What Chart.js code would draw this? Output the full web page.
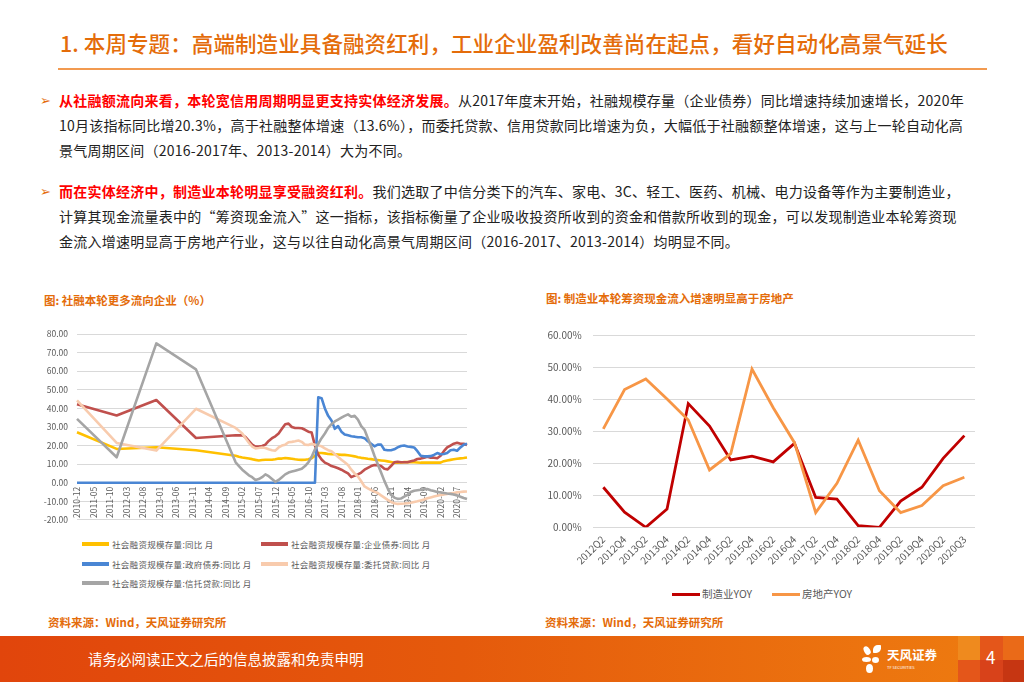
<!DOCTYPE html>
<html lang="zh-CN">
<head>
<meta charset="utf-8">
<script src="https://cdn.jsdelivr.net/npm/chart.js@4.4.0/dist/chart.umd.min.js"></script>
<style>
  html,body{margin:0;padding:0;}
  body{width:1024px;height:682px;position:relative;overflow:hidden;background:#fff;font-family:'Noto Sans CJK SC','Noto Sans',sans-serif;}
  .abs{position:absolute;white-space:nowrap;}
  .title{left:60px;top:29px;font-size:21.5px;line-height:28px;color:#E46C0A;font-weight:500;letter-spacing:0.1px;}
  .rule{left:58px;top:68px;width:929px;height:2px;background:#F29A50;}
  .txt{font-size:14px;line-height:20px;color:#222;left:59px;letter-spacing:0.25px;}
  .red{color:#FF0000;font-weight:700;}
  .arrow{font-size:13px;color:#E46C0A;left:40px;line-height:20px;}
  .ctitle{font-size:11.5px;font-weight:700;color:#E46C0A;line-height:16px;}
  .src{font-size:11.5px;font-weight:700;color:#E46C0A;line-height:16px;top:614px;}
  .lg{font-size:8.5px;color:#595959;line-height:12px;letter-spacing:0.3px;}
  .lgl{height:4px;width:27px;}
  .rlg{font-size:10.5px;color:#595959;line-height:14px;}
  .rlgl{height:3px;width:28px;}
  #footer{left:0;top:636px;width:1024px;height:46px;background:linear-gradient(90deg,#E1450C 0%,#E55A0C 45%,#EC740F 85%,#EE7C10 100%);}
</style>
</head>
<body>
<div class="abs title">1. 本周专题：高端制造业具备融资红利，工业企业盈利改善尚在起点，看好自动化高景气延长</div>
<div class="abs rule"></div>

<div class="abs arrow" style="top:90px;">➢</div>
<div class="abs txt" style="top:90px;"><span class="red">从社融额流向来看，本轮宽信用周期明显更支持实体经济发展。</span>从2017年度末开始，社融规模存量（企业债券）同比增速持续加速增长，2020年</div>
<div class="abs txt" style="top:115px;">10月该指标同比增20.3%，高于社融整体增速（13.6%），而委托贷款、信用贷款同比增速为负，大幅低于社融额整体增速，这与上一轮自动化高</div>
<div class="abs txt" style="top:140px;">景气周期区间（2016-2017年、2013-2014）大为不同。</div>

<div class="abs arrow" style="top:181px;">➢</div>
<div class="abs txt" style="top:181px;"><span class="red">而在实体经济中，制造业本轮明显享受融资红利。</span>我们选取了中信分类下的汽车、家电、3C、轻工、医药、机械、电力设备等作为主要制造业，</div>
<div class="abs txt" style="top:206px;">计算其现金流量表中的“筹资现金流入”这一指标，该指标衡量了企业吸收投资所收到的资金和借款所收到的现金，可以发现制造业本轮筹资现</div>
<div class="abs txt" style="top:231px;">金流入增速明显高于房地产行业，这与以往自动化高景气周期区间（2016-2017、2013-2014）均明显不同。</div>

<div class="abs ctitle" style="left:44px;top:292px;">图: 社融本轮更多流向企业（%）</div>
<div class="abs ctitle" style="left:546px;top:290px;">图: 制造业本轮筹资现金流入增速明显高于房地产</div>

<div class="abs" style="left:20px;top:320px;width:460px;height:214px;"><canvas id="c1" width="460" height="214"></canvas></div>
<div class="abs" style="left:530px;top:318px;width:460px;height:264px;"><canvas id="c2" width="460" height="264"></canvas></div>

<!-- left legend -->
<div class="abs lgl" style="left:82px;top:542px;background:#FFC000;"></div>
<div class="abs lg" style="left:112px;top:538px;">社会融资规模存量:同比 月</div>
<div class="abs lgl" style="left:261px;top:542px;background:#C0504D;"></div>
<div class="abs lg" style="left:291px;top:538px;">社会融资规模存量:企业债券:同比 月</div>
<div class="abs lgl" style="left:82px;top:562px;background:#4A86D4;"></div>
<div class="abs lg" style="left:112px;top:558px;">社会融资规模存量:政府债券:同比 月</div>
<div class="abs lgl" style="left:261px;top:562px;background:#F8CBAD;"></div>
<div class="abs lg" style="left:291px;top:558px;">社会融资规模存量:委托贷款:同比 月</div>
<div class="abs lgl" style="left:82px;top:581px;background:#A5A5A5;"></div>
<div class="abs lg" style="left:112px;top:577px;">社会融资规模存量:信托贷款:同比 月</div>

<!-- right legend -->
<div class="abs rlgl" style="left:672px;top:593px;background:#C00000;"></div>
<div class="abs rlg" style="left:702px;top:587px;">制造业YOY</div>
<div class="abs rlgl" style="left:772px;top:593px;background:#F79646;"></div>
<div class="abs rlg" style="left:802px;top:587px;">房地产YOY</div>

<div class="abs src" style="left:48px;">资料来源：Wind，天风证券研究所</div>
<div class="abs src" style="left:545px;">资料来源：Wind，天风证券研究所</div>

<div class="abs" id="footer"></div>
<div class="abs" style="left:958px;top:636px;width:22px;height:24px;background:#EF8A1E;"></div>
<div class="abs" style="left:980px;top:636px;width:23px;height:24px;background:#E4561A;"></div>
<div class="abs" style="left:1003px;top:636px;width:21px;height:24px;background:#EA6A18;"></div>
<div class="abs" style="left:958px;top:660px;width:22px;height:22px;background:#E4561A;"></div>
<div class="abs" style="left:980px;top:660px;width:23px;height:22px;background:#D8421A;"></div>
<div class="abs" style="left:1003px;top:660px;width:21px;height:22px;background:#C63612;"></div>
<div class="abs" style="left:88px;top:649px;font-size:14.5px;line-height:20px;color:#fff;">请务必阅读正文之后的信息披露和免责申明</div>
<!-- logo -->
<div class="abs" style="left:864px;top:646px;width:6px;height:9px;background:#fff;border-radius:50% 50% 40% 40%;transform:rotate(-30deg);"></div>
<div class="abs" style="left:873px;top:645px;width:8px;height:8px;background:#fff;border-radius:60% 10% 60% 10%;"></div>
<div class="abs" style="left:862px;top:657px;width:9px;height:5px;background:#fff;border-radius:50%;"></div>
<div class="abs" style="left:872px;top:657px;width:7px;height:6px;background:#fff;border-radius:50%;"></div>
<div class="abs" style="left:866px;top:664px;width:7px;height:9px;background:#fff;border-radius:50% 50% 50% 50%;"></div>
<div class="abs" style="left:887px;top:647px;font-size:12.5px;line-height:16px;color:#fff;font-weight:700;">天风证券</div>
<div class="abs" style="left:887px;top:665px;font-size:4px;line-height:5px;color:#fff;">TF SECURITIES</div>
<div class="abs" style="left:986px;top:647px;font-size:17px;line-height:20px;color:#fff;">4</div>

<script>
// ---------- Left chart data ----------
const monthLabels = (function(){ const a=[]; let y=2010,m=12; while(!(y===2020&&m===11)){ a.push(y+'-'+String(m).padStart(2,'0')); m++; if(m>12){m=1;y++;} } return a; })();
const tickLabels = ['2010-12','2011-05','2011-10','2012-03','2012-08','2013-01','2013-06','2013-11','2014-04','2014-09','2015-02','2015-07','2015-12','2016-05','2016-10','2017-03','2017-08','2018-01','2018-06','2018-11','2019-04','2019-09','2020-02','2020-07'];
const yearEndLabels = ['2010-12','2011-12','2012-12','2013-12','2014-12'];
const monthlyStart = '2015-01';

// 社会融资规模存量:同比
const tsfAnnual = [27.2, 18.2, 19.1, 17.5, 14.5];
const tsfMonthly = [14.0,13.6,13.3,13.0,12.7,12.3,12.0,12.2,12.4,12.4,12.4,12.6,
  13.0,13.0,13.3,13.1,12.9,12.6,12.4,12.3,12.4,12.6,13.2,14.5,
  16.0,16.0,15.8,15.5,15.4,15.3,15.2,15.0,15.0,14.8,14.5,14.2,
  13.7,13.4,13.2,12.9,12.7,12.4,12.2,12.0,11.8,11.5,11.2,10.8,
  10.8,10.9,11.1,11.2,11.0,11.0,10.9,10.8,10.8,10.8,10.8,10.8,
  10.8,10.8,11.6,12.0,12.3,12.6,12.9,13.1,13.3,13.6];
// 企业债券
const corpAnnual = [42.3, 36.2, 44.5, 24.1, 25.6];
const corpMonthly = [25.5,25.6,24.5,22.5,20.5,19.5,19.5,19.8,20.5,22.5,24.0,25.0,
  26.5,29.0,31.5,31.8,30.0,29.5,29.5,29.3,28.5,27.5,27.0,20.0,
  15.0,12.5,10.8,10.0,9.0,8.5,7.8,7.0,6.0,5.0,3.0,3.8,
  4.5,5.5,7.0,8.0,9.0,9.5,9.5,9.0,7.5,7.2,9.0,11.0,
  11.3,11.0,11.0,11.0,11.5,12.0,12.8,13.0,13.5,14.0,13.5,13.5,
  13.2,14.5,17.0,19.0,20.0,21.0,21.5,21.0,21.0,20.3];
// 政府债券
const govAnnual = [0, 0, 0, 0, 0];
const govMonthly = [0,0,0,0,0,0,0,0,0,0,0,0,
  0,0,0,0,0,0,0,0,0,0,0,0,
  46.0,45.5,40.0,36.0,33.5,29.0,30.5,27.5,26.0,25.5,25.0,24.8,
  24.5,24.5,24.0,22.3,21.0,19.6,20.5,20.5,17.8,17.5,17.5,18.0,
  19.0,19.8,20.0,19.5,19.3,19.0,17.0,14.5,14.2,14.2,14.3,15.0,
  16.0,15.3,15.5,16.0,17.5,17.8,17.2,19.0,20.5,21.0];
// 委托贷款
const entAnnual = [44.3, 21.4, 17.3, 39.8, 29.5];
const entMonthly = [28.0,26.5,24.0,21.5,19.5,18.5,18.7,19.0,18.7,18.0,17.5,17.3,
  19.0,20.0,20.5,21.8,22.0,22.3,22.7,22.0,20.5,20.3,21.0,20.5,
  20.0,19.6,18.5,17.5,16.9,15.5,13.8,12.4,11.0,9.5,7.0,5.0,
  3.4,0.8,-2.0,-3.0,-4.0,-4.8,-5.5,-6.8,-8.0,-9.2,-10.3,-11.0,
  -11.4,-11.3,-11.2,-11.0,-10.8,-10.4,-10.0,-9.5,-9.0,-8.4,-7.9,-7.4,
  -7.0,-6.6,-6.3,-6.1,-5.8,-5.5,-5.2,-5.0,-4.8,-4.7];
// 信托贷款
const trustAnnual = [34.4, 13.7, 75.0, 61.0, 11.0];
const trustMonthly = [9.0,7.0,5.5,4.0,3.0,1.5,2.0,3.0,4.5,3.5,2.0,0.5,
  1.5,3.0,4.5,5.5,6.0,6.5,7.0,7.5,9.0,11.0,14.0,18.0,
  21.0,24.0,26.5,29.5,31.5,33.0,34.0,35.0,36.0,36.8,35.5,36.0,
  34.0,30.5,28.5,24.0,19.5,14.5,10.0,5.5,1.0,-3.0,-6.5,-8.0,
  -8.7,-8.5,-7.5,-6.5,-5.0,-4.3,-4.0,-3.8,-3.5,-3.4,-4.0,-4.5,
  -5.0,-5.2,-5.5,-5.8,-6.0,-6.3,-6.8,-7.5,-8.2,-8.8];

// ---------- Right chart data ----------
const quarters = ['2012Q2','2012Q4','2013Q2','2013Q4','2014Q2','2014Q4','2015Q2','2015Q4','2016Q2','2016Q4','2017Q2','2017Q4','2018Q2','2018Q4','2019Q2','2019Q4','2020Q2','2020Q3'];
const mfgYoy = [12.5,4.7,0.0,5.7,38.6,31.6,21.0,22.2,20.4,26.2,9.3,8.8,0.5,0.0,8.2,12.5,21.5,28.6];
const reYoy  = [30.7,43.0,46.3,40.0,33.5,17.9,23.0,49.4,37.3,26.4,4.6,13.7,27.2,11.4,4.6,6.8,13.0,15.6];

const FONT = "'Noto Sans CJK SC','Noto Sans',sans-serif";
const startIdx = monthLabels.indexOf(monthlyStart);
function pts(annual, monthly){
  return annual.map((v,i)=>({x:yearEndLabels[i], y:v}))
    .concat(monthly.map((v,i)=>({x:monthLabels[startIdx+i], y:v})));
}
function ds(label, data, color, order){
  return {label, data, borderColor:color, backgroundColor:color, borderWidth:2.6, pointRadius:0, tension:0, fill:false, order, borderJoinStyle:'round'};
}

new Chart(document.getElementById('c1'), {
  type:'line',
  data:{
    labels: monthLabels,
    datasets:[
      ds('社会融资规模存量:同比 月', pts(tsfAnnual, tsfMonthly), '#FFC000', 4),
      ds('社会融资规模存量:企业债券:同比 月', pts(corpAnnual, corpMonthly), '#C0504D', 3),
      ds('社会融资规模存量:政府债券:同比 月', pts(govAnnual, govMonthly), '#4A86D4', 2),
      ds('社会融资规模存量:委托贷款:同比 月', pts(entAnnual, entMonthly), '#F8CBAD', 1),
      ds('社会融资规模存量:信托贷款:同比 月', pts(trustAnnual, trustMonthly), '#A5A5A5', 0)
    ]
  },
  options:{
    responsive:false, animation:false,
    layout:{padding:{top:5,right:13,bottom:5,left:0}},
    plugins:{legend:{display:false}, tooltip:{enabled:false}},
    scales:{
      x:{type:'category', position:{y:0}, offset:false,
        grid:{display:false, drawTicks:false}, border:{display:false},
        ticks:{autoSkip:false, minRotation:90, maxRotation:90, padding:4, color:'#595959', font:{size:8.5, family:FONT},
          callback:function(v){ const l=this.getLabelForValue(v); return tickLabels.includes(l)?l:null; }}
      },
      y:{min:-20, max:80,
        afterFit:function(s){ s.width=57; },
        grid:{color:'#D9D9D9', drawTicks:false, lineWidth:1}, border:{display:false},
        ticks:{stepSize:10, padding:9, color:'#595959', font:{size:8.5, family:FONT}, callback:v=>v.toFixed(2)}
      }
    }
  }
});

new Chart(document.getElementById('c2'), {
  type:'line',
  data:{
    labels: quarters,
    datasets:[
      {label:'制造业YOY', data:mfgYoy, borderColor:'#C00000', backgroundColor:'#C00000', borderWidth:2.8, pointRadius:0, tension:0, order:1},
      {label:'房地产YOY', data:reYoy, borderColor:'#F79646', backgroundColor:'#F79646', borderWidth:2.8, pointRadius:0, tension:0, order:0}
    ]
  },
  options:{
    responsive:false, animation:false,
    layout:{padding:{top:15,right:15,bottom:0,left:0}},
    plugins:{legend:{display:false}, tooltip:{enabled:false}},
    scales:{
      x:{offset:true, grid:{display:false, drawTicks:false}, border:{display:false},
        afterFit:function(s){ s.height=264-209.3; },
        ticks:{autoSkip:false, minRotation:45, maxRotation:45, padding:6, color:'#595959', font:{size:10, family:FONT}}
      },
      y:{min:0, max:60,
        afterFit:function(s){ s.width=62.7; },
        grid:{color:'#D9D9D9', drawTicks:false}, border:{display:false},
        ticks:{stepSize:10, padding:11, color:'#595959', font:{size:10, family:FONT}, callback:v=>v.toFixed(2)+'%'}
      }
    }
  }
});
</script>
</body>
</html>
